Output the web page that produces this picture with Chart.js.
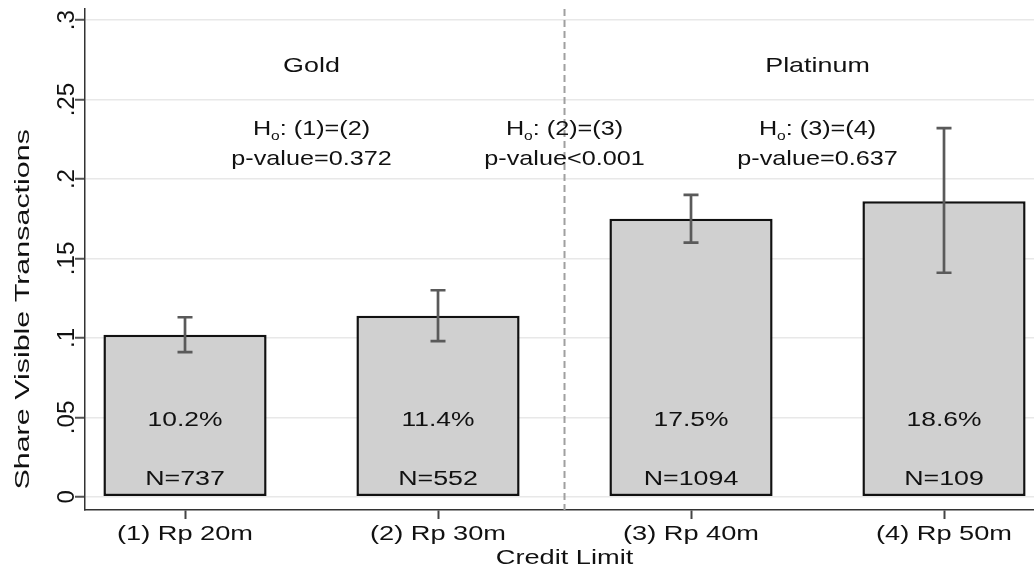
<!DOCTYPE html>
<html>
<head>
<meta charset="utf-8">
<script src="https://cdn.jsdelivr.net/npm/chart.js@4.4.1/dist/chart.umd.min.js"></script>
<style>
  html, body { margin: 0; padding: 0; background: #fff; }
</style>
</head>
<body>
<canvas id="chart" width="1034" height="569"></canvas>
<script>
// data
const categories = ["(1) Rp 20m", "(2) Rp 30m", "(3) Rp 40m", "(4) Rp 50m"];
const categoryPos = [1, 2, 3, 4];
const shares = [0.102, 0.114, 0.175, 0.186];
const ciLow = [0.091, 0.098, 0.160, 0.141];
const ciHigh = [0.113, 0.130, 0.190, 0.232];
const nObs = [737, 552, 1094, 109];
const yTickValues = [0, 0.05, 0.1, 0.15, 0.2, 0.25, 0.3];
const yTickLabels = ["0", ".05", ".1", ".15", ".2", ".25", ".3"];
const groupNames = ["Gold", "Platinum"];
const groupPos = [1.5, 3.5];
const tests = [": (1)=(2)", ": (2)=(3)", ": (3)=(4)"];
const pValues = ["p-value=0.372", "p-value<0.001", "p-value=0.637"];
const testPos = [1.5, 2.5, 3.5];
const splitPos = 2.5;

const FONT = '"Liberation Sans", Arial, Helvetica, sans-serif';
const INK = "#111";

function drawText(ctx, str, x, y, size, sx, rot) {
  ctx.save();
  ctx.font = size + "px " + FONT;
  ctx.fillStyle = INK;
  ctx.translate(x, y);
  if (rot) ctx.rotate(rot);
  ctx.scale(sx, 1);
  ctx.textAlign = "center";
  ctx.textBaseline = "alphabetic";
  ctx.fillText(str, 0, 0);
  ctx.restore();
}

// H with subscript o, then the rest
function drawHypothesis(ctx, rest, cx, y, size, sx) {
  ctx.save();
  ctx.fillStyle = INK;
  ctx.textBaseline = "alphabetic";
  ctx.textAlign = "left";
  const small = Math.round(size * 0.62);
  ctx.font = size + "px " + FONT;
  const wH = ctx.measureText("H").width;
  const wR = ctx.measureText(rest).width;
  ctx.font = small + "px " + FONT;
  const wO = ctx.measureText("o").width;
  const total = (wH + wO + wR) * sx;
  ctx.translate(cx - total / 2, y);
  ctx.scale(sx, 1);
  ctx.font = size + "px " + FONT;
  ctx.fillText("H", 0, 0);
  ctx.font = small + "px " + FONT;
  ctx.fillText("o", wH, 5);
  ctx.font = size + "px " + FONT;
  ctx.fillText(rest, wH + wO, 0);
  ctx.restore();
}

const overlay = {
  id: "overlay",
  beforeDatasetsDraw(chart) {
    const { ctx, chartArea, scales } = chart;
    const x = scales.x.getPixelForValue(splitPos);
    ctx.save();
    ctx.strokeStyle = "#a0a0a0";
    ctx.lineWidth = 2;
    ctx.setLineDash([7, 4]);
    ctx.beginPath();
    ctx.moveTo(x, chartArea.top);
    ctx.lineTo(x, chartArea.bottom);
    ctx.stroke();
    ctx.restore();
  },
  afterDatasetsDraw(chart) {
    const { ctx, scales } = chart;
    const xs = scales.x, ys = scales.y;

    // confidence intervals
    ctx.save();
    ctx.strokeStyle = "#5a5a5a";
    ctx.lineWidth = 2.7;
    categoryPos.forEach((p, i) => {
      const x = xs.getPixelForValue(p);
      const top = ys.getPixelForValue(ciHigh[i]);
      const bot = ys.getPixelForValue(ciLow[i]);
      ctx.beginPath();
      ctx.moveTo(x, top); ctx.lineTo(x, bot);
      ctx.moveTo(x - 7.5, top); ctx.lineTo(x + 7.5, top);
      ctx.moveTo(x - 7.5, bot); ctx.lineTo(x + 7.5, bot);
      ctx.stroke();
    });
    ctx.restore();

    // labels inside bars
    categoryPos.forEach((p, i) => {
      const x = xs.getPixelForValue(p);
      drawText(ctx, (shares[i] * 100).toFixed(1) + "%", x, ys.getPixelForValue(0.0443), 20, 1.32);
      drawText(ctx, "N=" + nObs[i], x, ys.getPixelForValue(0.0073), 20, 1.34);
    });

    // group names and tests
    groupNames.forEach((g, i) => {
      drawText(ctx, g, xs.getPixelForValue(groupPos[i]), ys.getPixelForValue(0.2673), 21, 1.28);
    });
    testPos.forEach((p, i) => {
      const x = xs.getPixelForValue(p);
      drawHypothesis(ctx, tests[i], x, ys.getPixelForValue(0.2277), 21, 1.2);
      drawText(ctx, pValues[i], x, ys.getPixelForValue(0.2088), 21, 1.2);
    });
  },
  afterDraw(chart) {
    const { ctx, scales } = chart;
    const xs = scales.x, ys = scales.y;
    xs.ticks.forEach((t, i) => {
      drawText(ctx, categories[i], xs.getPixelForValue(t.value), 539.5, 20, 1.36);
    });
    ys.ticks.forEach((t, i) => {
      drawText(ctx, yTickLabels[i], 74, ys.getPixelForValue(t.value), 23, 1.05, -Math.PI / 2);
    });
    drawText(ctx, "Credit Limit", xs.getPixelForValue(2.5), 564, 20, 1.36);
    drawText(ctx, "Share Visible Transactions", 29, ys.getPixelForValue(0.118), 21, 1.45, -Math.PI / 2);
  }
};

new Chart(document.getElementById("chart").getContext("2d"), {
  type: "bar",
  data: {
    datasets: [{
      data: categoryPos.map((x, i) => ({ x: x, y: shares[i] })),
      backgroundColor: "#d0d0d0",
      borderColor: INK,
      borderWidth: 2.5,
      borderSkipped: false,
      barPercentage: 0.645,
      categoryPercentage: 1
    }]
  },
  options: {
    responsive: false,
    animation: false,
    layout: { padding: { left: 75, top: 9, right: 0, bottom: 50 } },
    plugins: { legend: { display: false }, tooltip: { enabled: false } },
    scales: {
      x: {
        type: "linear",
        min: 0.6047,
        max: 4.3557,
        offset: false,
        afterBuildTicks: (s) => { s.ticks = categoryPos.map(v => ({ value: v })); },
        ticks: { display: false },
        grid: { offset: false, drawOnChartArea: false, tickLength: 9, tickColor: "#444", tickWidth: 2 },
        border: { color: "#333", width: 1.5 }
      },
      y: {
        min: -0.0083,
        max: 0.307,
        afterBuildTicks: (s) => { s.ticks = yTickValues.map(v => ({ value: v })); },
        ticks: { display: false },
        grid: { color: "#e8e8e8", lineWidth: 1.5, tickLength: 10, tickColor: "#555", tickWidth: 2 },
        border: { color: "#333", width: 1.5 }
      }
    }
  },
  plugins: [overlay]
});
</script>
</body>
</html>
